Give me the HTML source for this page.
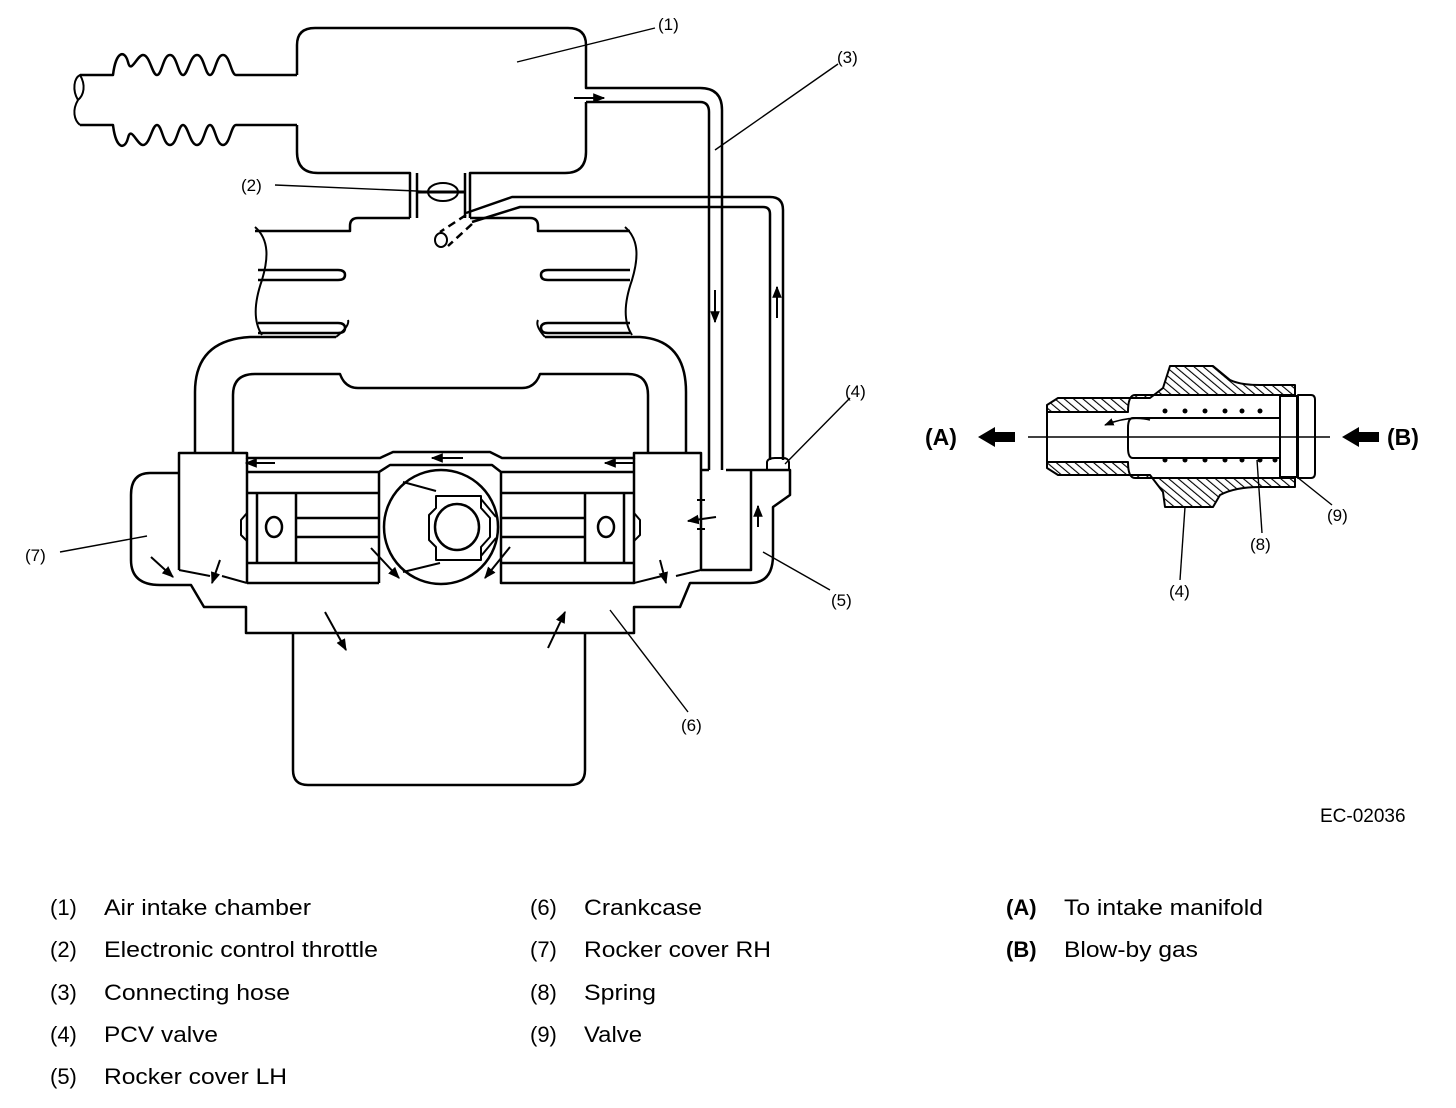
<!DOCTYPE html>
<html><head><meta charset="utf-8"><style>
html,body{margin:0;padding:0;background:#fff;}
svg{display:block;}
text{font-family:"Liberation Sans",sans-serif;fill:#000;}
</style></head><body>
<svg width="1456" height="1108" viewBox="0 0 1456 1108" xmlns="http://www.w3.org/2000/svg">
<defs>
<pattern id="h" patternUnits="userSpaceOnUse" width="6" height="6" patternTransform="rotate(-50)">
<rect width="6" height="6" fill="#fff"/><line x1="0" y1="0" x2="0" y2="6" stroke="#000" stroke-width="2.2"/>
</pattern>
<marker id="ar" viewBox="0 0 10 10" refX="9" refY="5" markerWidth="6" markerHeight="6" orient="auto-start-reverse">
<path d="M0,1 L10,5 L0,9 z" fill="#000"/></marker>
</defs>
<g fill="none" stroke="#000" stroke-width="2.5" stroke-linejoin="round">
<path d="M297,75 V45 Q297,28 315,28 H568 Q586,28 586,45 V88 H700 Q722,88 722,110 V470"/>
<path d="M586,102 H700 Q709,102 709,112 V470"/>
<path d="M297,125 V152 Q297,173 318,173 H410 V218 M586,102 V152 Q586,173 565,173 H470 V218 M417,173 V218 M465,173 V218"/>
<path d="M80,75 H113 C116,50 125,50 128,62 C131,75 137,55 143,55 C150,55 152,75 157,75 C162,75 163,55 170,55 C177,55 178,75 183,75 C188,75 190,55 197,55 C204,55 205,75 210,75 C215,75 216,55 223,55 C230,55 231,75 236,75 H297"/>
<path d="M80,125 H113 C116,150 125,150 128,138 C131,125 137,145 143,145 C150,145 152,125 157,125 C162,125 163,145 170,145 C177,145 178,125 183,125 C188,125 190,145 197,145 C204,145 205,125 210,125 C215,125 216,145 223,145 C230,145 231,125 236,125 H297"/>
<path d="M78,100 C72,90 74,78 80,75 C86,85 84,95 78,100 C72,110 74,120 80,125" stroke-width="2"/>
<ellipse cx="443" cy="192" rx="15" ry="9" stroke-width="2"/>
<line x1="417" y1="192" x2="465" y2="192" stroke-width="3"/>
<path d="M466,213 L512,197 H770 Q783,197 783,210 V460"/>
<path d="M472,222 L520,207 H763 Q770,207 770,214 V460"/>
<path d="M466,215 L440,232 M472,224 L448,246" stroke-dasharray="8,5"/>
<ellipse cx="441" cy="240" rx="6" ry="7" stroke-width="2"/>
<path d="M767,470 V462 Q768,458 775,458 H783 Q788,458 789,462 V470" stroke-width="2"/>
<path d="M410,218 H358 Q350,218 350,226 V231 H255 M470,218 H530 Q538,218 538,226 V231 H630"/>
<path d="M255,227 C270,240 268,260 262,280 C255,300 252,320 262,335" stroke-width="2"/>
<path d="M625,227 C640,240 638,260 632,280 C625,300 622,320 632,335" stroke-width="2"/>
<path d="M258,270 H338 Q345,270 345,275 Q345,280 338,280 H258 M258,323 H338 Q345,323 345,328 Q345,333 338,333 H258"/>
<path d="M630,270 H548 Q541,270 541,275 Q541,280 548,280 H630 M630,323 H548 Q541,323 541,328 Q541,333 548,333 H630"/>
<path d="M195,453 V392 Q195,340 250,337 H336 M545,337 H640 Q686,340 686,392 V453"/>
<path d="M233,453 V395 Q233,374 255,374 H340 Q345,388 358,388 H522 Q535,388 540,374 H628 Q648,374 648,395 V453"/>
<path d="M336,337 Q350,326 348,320 M545,337 Q535,326 538,320" stroke-width="2"/>
<path d="M179,570 V453 H247 V458 H380 L393,452 H490 L502,458 H634 V453 H701 V570"/>
<path d="M247,472 H379 L390,465 H492 L501,472 H634"/>
<path d="M247,458 V583 M379,472 V583 M247,583 H379 M501,472 V583 H634 V458"/>
<path d="M247,493 H379 M296,518 H379 M296,537 H379 M247,563 H379 M257,493 V563 M296,493 V563"/>
<path d="M501,493 H634 M501,518 H585 M501,537 H585 M501,563 H634 M624,493 V563 M585,493 V563"/>
<ellipse cx="274" cy="527" rx="8" ry="10"/><ellipse cx="606" cy="527" rx="8" ry="10"/>
<path d="M247,513 L241,520 V535 L247,541 M634,513 L640,520 V535 L634,541" stroke-width="2"/>
<circle cx="441" cy="527" r="57"/>
<path d="M436,496 H481 V508 L490,518 V537 L481,547 V560 H436 V547 L429,540 V515 L436,508 Z" stroke-width="2"/>
<ellipse cx="457" cy="527" rx="22" ry="23"/>
<path d="M403,482 L436,491 M403,572 L440,563 M481,499 L496,517 M481,556 L496,538" stroke-width="2"/>
<path d="M179,473 H150 Q131,473 131,495 V560 Q131,585 160,585 H191 L204,607 H246 V633 H634 V607 H680 L690,583 H750 Q773,583 773,555 V507 L790,495 V470 H726"/>
<path d="M709,470 H701 M701,570 H751 V470"/>
<path d="M179,570 L210,576 M222,576 L247,583 M701,570 L676,576 M662,576 L634,583" stroke-width="2"/>
<path d="M293,633 V770 Q293,785 308,785 H570 Q585,785 585,770 V633"/>
</g>
<g stroke="#000" stroke-width="2" fill="none" marker-end="url(#ar)">
<line x1="574" y1="98" x2="604" y2="98"/>
<line x1="715" y1="290" x2="715" y2="322"/>
<line x1="777" y1="318" x2="777" y2="287"/>
<line x1="275" y1="463" x2="246" y2="463"/>
<line x1="463" y1="458" x2="432" y2="458"/>
<line x1="634" y1="463" x2="605" y2="463"/>
<line x1="716" y1="517" x2="688" y2="521"/>
<line x1="758" y1="527" x2="758" y2="506"/>
<line x1="151" y1="557" x2="173" y2="577"/>
<line x1="220" y1="560" x2="212" y2="583"/>
<line x1="660" y1="560" x2="666" y2="583"/>
<line x1="371" y1="548" x2="399" y2="578"/>
<line x1="510" y1="547" x2="485" y2="578"/>
<line x1="325" y1="612" x2="346" y2="650"/>
<line x1="548" y1="648" x2="565" y2="612"/>
</g>
<g stroke="#000" stroke-width="2"><line x1="701" y1="500" x2="701" y2="512"/><line x1="701" y1="527" x2="701" y2="537"/><line x1="697" y1="500" x2="705" y2="500"/><line x1="697" y1="529" x2="705" y2="529"/></g>
<g stroke="#000" stroke-width="1.4">
<line x1="517" y1="62" x2="655" y2="28"/>
<line x1="715" y1="150" x2="838" y2="64"/>
<line x1="275" y1="185" x2="440" y2="192"/>
<line x1="785" y1="464" x2="850" y2="398"/>
<line x1="763" y1="552" x2="830" y2="590"/>
<line x1="610" y1="610" x2="688" y2="712"/>
<line x1="60" y1="552" x2="147" y2="536"/>
</g>
<g font-size="17">
<text x="658" y="30">(1)</text><text x="837" y="63">(3)</text>
<text x="241" y="191">(2)</text><text x="845" y="397">(4)</text>
<text x="831" y="606">(5)</text><text x="681" y="731">(6)</text>
<text x="25" y="561">(7)</text>
<text x="1169" y="597">(4)</text><text x="1250" y="550">(8)</text><text x="1327" y="521">(9)</text>
<text x="1320" y="822" font-size="19">EC-02036</text>
</g>
<g stroke="#000" stroke-width="2" stroke-linejoin="round">
<path fill="url(#h)" d="M1047,405 L1058,398 H1150 L1163,388 L1170,366 H1213 L1230,380 Q1240,385 1260,385 H1295 V395 H1135 Q1128,395 1128,412 H1047 Z"/>
<path fill="url(#h)" d="M1047,462 H1128 Q1128,478 1135,478 H1295 V487 H1260 Q1235,487 1220,495 L1213,507 H1165 L1163,492 L1150,475 H1058 L1047,468 Z"/>
<path fill="none" d="M1047,405 V468 M1133,418 H1280 V458 H1133 Q1128,458 1128,448 V428 Q1128,418 1133,418"/>
<path fill="#fff" d="M1280,396 H1297 V477 H1280 Z M1298,395 H1311 Q1315,395 1315,400 V473 Q1315,478 1311,478 H1298 Z"/>
<line x1="1028" y1="437" x2="1330" y2="437" stroke-width="1.6"/>
<line x1="1185" y1="507" x2="1180" y2="580" stroke-width="1.4"/><line x1="1257" y1="460" x2="1262" y2="533" stroke-width="1.4"/>
<line x1="1297" y1="477" x2="1332" y2="505" stroke-width="1.4"/>
<path d="M1150,420 Q1130,415 1105,425" fill="none" stroke-width="1.6" marker-end="url(#ar)"/>
</g>
<g fill="#000"><circle cx="1165" cy="411" r="2.5"/><circle cx="1185" cy="411" r="2.5"/><circle cx="1205" cy="411" r="2.5"/><circle cx="1225" cy="411" r="2.5"/><circle cx="1242" cy="411" r="2.5"/><circle cx="1260" cy="411" r="2.5"/>
<circle cx="1165" cy="460" r="2.5"/><circle cx="1185" cy="460" r="2.5"/><circle cx="1205" cy="460" r="2.5"/><circle cx="1225" cy="460" r="2.5"/><circle cx="1242" cy="460" r="2.5"/><circle cx="1260" cy="460" r="2.5"/><circle cx="1275" cy="460" r="2.5"/>
<path d="M978,437 L995,427 V432 H1015 V442 H995 V447 Z"/>
<path d="M1342,437 L1359,427 V432 H1379 V442 H1359 V447 Z"/></g>
<text x="925" y="445" font-size="23" font-weight="bold">(A)</text>
<text x="1387" y="445" font-size="23" font-weight="bold">(B)</text>
<g font-size="22">
<text x="50" y="915">(1)</text><text x="104" y="915" textLength="207" lengthAdjust="spacingAndGlyphs">Air intake chamber</text>
<text x="50" y="957">(2)</text><text x="104" y="957" textLength="274" lengthAdjust="spacingAndGlyphs">Electronic control throttle</text>
<text x="50" y="1000">(3)</text><text x="104" y="1000" textLength="186" lengthAdjust="spacingAndGlyphs">Connecting hose</text>
<text x="50" y="1042">(4)</text><text x="104" y="1042" textLength="114" lengthAdjust="spacingAndGlyphs">PCV valve</text>
<text x="50" y="1084">(5)</text><text x="104" y="1084" textLength="183" lengthAdjust="spacingAndGlyphs">Rocker cover LH</text>
<text x="530" y="915">(6)</text><text x="584" y="915" textLength="118" lengthAdjust="spacingAndGlyphs">Crankcase</text>
<text x="530" y="957">(7)</text><text x="584" y="957" textLength="187" lengthAdjust="spacingAndGlyphs">Rocker cover RH</text>
<text x="530" y="1000">(8)</text><text x="584" y="1000" textLength="72" lengthAdjust="spacingAndGlyphs">Spring</text>
<text x="530" y="1042">(9)</text><text x="584" y="1042" textLength="58" lengthAdjust="spacingAndGlyphs">Valve</text>
<text x="1006" y="915" font-weight="bold">(A)</text><text x="1064" y="915" textLength="199" lengthAdjust="spacingAndGlyphs">To intake manifold</text>
<text x="1006" y="957" font-weight="bold">(B)</text><text x="1064" y="957" textLength="134" lengthAdjust="spacingAndGlyphs">Blow-by gas</text>
</g>
</svg>
</body></html>
